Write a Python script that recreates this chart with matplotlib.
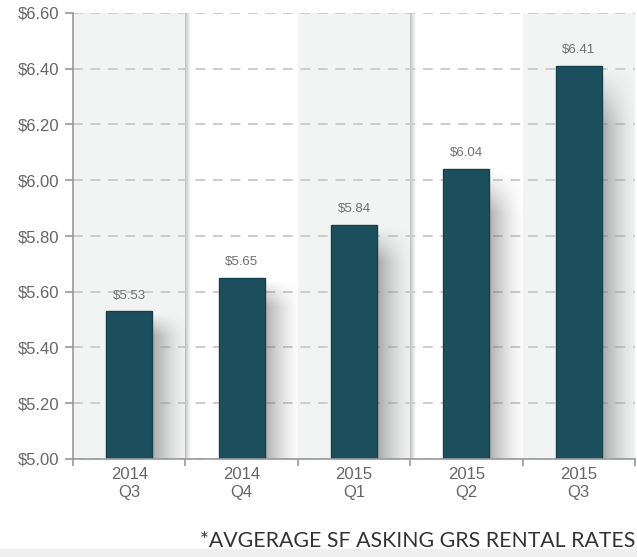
import numpy as np
import matplotlib.pyplot as plt
from matplotlib.patches import Rectangle

# data
years = ["2014", "2014", "2015", "2015", "2015"]
quarters = ["Q3", "Q4", "Q1", "Q2", "Q3"]
rates = [5.53, 5.65, 5.84, 6.04, 6.41]
yticks = [5.00, 5.20, 5.40, 5.60, 5.80, 6.00, 6.20, 6.40, 6.60]

bar_color = "#1b4f5e"
band_color = "#f2f3f3"
text_color = "#666666"


def shadow_img(ny, fade_rows, strength=0.55):
    # gray shadow that fades to the right and near its top edge
    nx = 64
    xs = np.linspace(0, 1, nx)
    a = strength * (1 - xs) ** 1.6
    rows = np.ones(ny)
    if fade_rows > 0:
        rows[:fade_rows] = np.linspace(0, 1, fade_rows)
    img = np.zeros((ny, nx, 4))
    img[..., :3] = 0.42
    img[..., 3] = rows[:, None] * a[None, :]
    return img


fig = plt.figure(figsize=(6.37, 5.57), dpi=100)
ax = fig.add_axes([73 / 637, 98 / 557, 562 / 637, 446 / 557])

x = np.arange(len(rates))
ax.set_xlim(-0.5, len(rates) - 0.5)
ax.set_ylim(5.0, 6.6)

# alternating background bands
for i in x:
    if i % 2 == 0:
        ax.axvspan(i - 0.5, i + 0.5, color=band_color, zorder=0, lw=0)
        if i < len(rates) - 1:
            ax.imshow(shadow_img(10, 0, 0.45), aspect="auto", zorder=0.5,
                      extent=(i + 0.5, i + 0.56, 5.0, 6.6),
                      interpolation="bilinear")

ax.yaxis.grid(True, color="#cccccc", ls=(0, (5, 4)), lw=1.4, zorder=1)
ax.set_axisbelow(True)

bw = 0.41
for i, v in zip(x, rates):
    ax.imshow(shadow_img(200, 30), aspect="auto", zorder=2,
              extent=(i + bw / 2, i + bw / 2 + 0.33, 5.0, v - 0.01),
              interpolation="bilinear")
ax.bar(x, rates, width=bw, color=bar_color, zorder=3,
       edgecolor="#16404c", lw=1.0)

for i, v in zip(x, rates):
    ax.text(i, v + 0.035, f"${v:.2f}", ha="center", va="bottom",
            fontsize=9.5, color="#707070", family="Liberation Sans", zorder=4)

ax.set_yticks(yticks)
ax.set_yticklabels([f"${t:.2f}" for t in yticks], fontsize=12,
                   color=text_color, family="Liberation Sans")
ax.set_xticks(x)
ax.set_xticklabels([f"{a}\n{b}" for a, b in zip(years, quarters)],
                   fontsize=12, color=text_color, family="Liberation Sans",
                   linespacing=1.2)
ax.tick_params(axis="x", length=0, pad=6)
ax.set_xticks(np.arange(-0.5, len(rates)), minor=True)
ax.tick_params(axis="x", which="minor", length=5, color="#999999", width=1.2)
ax.tick_params(axis="y", length=6, color="#999999", width=1.2, pad=4)

for s in ["top", "right"]:
    ax.spines[s].set_visible(False)
for s in ["left", "bottom"]:
    ax.spines[s].set_color("#999999")
    ax.spines[s].set_linewidth(1.2)
    ax.spines[s].set_zorder(5)

# light strip along the bottom edge
fig.patches.append(Rectangle((0, 0), 1, 8 / 557, transform=fig.transFigure,
                             color="#efefef", zorder=0))

fig.text(635 / 637, 10 / 557, "*AVGERAGE SF ASKING GRS RENTAL RATES",
         ha="right", va="baseline", fontsize=15.3, color="#333333",
         family="Lato")

fig.savefig("out.png", dpi=100)
